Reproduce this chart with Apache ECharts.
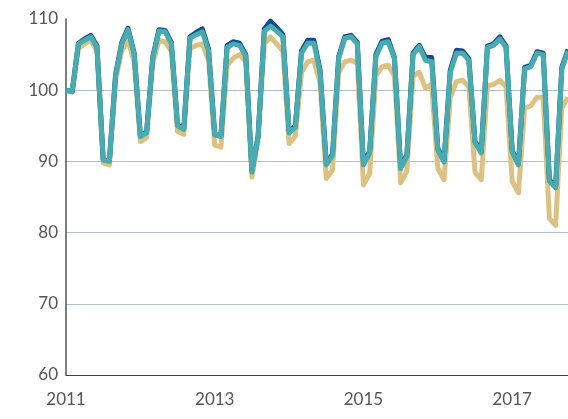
<!DOCTYPE html>
<html>
<head>
<meta charset="utf-8">
<script src="https://cdn.jsdelivr.net/npm/echarts@6/dist/echarts.min.js"></script>
<style>
  html, body { margin: 0; padding: 0; background: #fff; }
  #chart { width: 568px; height: 419px; }
</style>
</head>
<body>
<div id="chart"></div>
<script>
// months Jan 2011 .. Oct 2017
var months = [];
for (var y = 2011; y <= 2017; y++) {
    for (var m = 1; m <= 12; m++) {
        if (y === 2017 && m > 10) break;
        months.push(y + '-' + (m < 10 ? '0' + m : m));
    }
}

var yearLabels = ['2011', '2013', '2015', '2017'];

var navyData = [
    100, 99.8, 106.6, 107.2, 107.7, 106.2, 90.3, 90.1, 102.2, 106.7, 108.7, 105.2,
    93.6, 94.1, 104.7, 108.5, 108.4, 106.7, 95.1, 94.6, 107.5, 108.1, 108.6, 105.8,
    93.8, 93.6, 106.3, 106.8, 106.6, 105, 88.7, 93.6, 108.6, 109.7, 108.8, 107.8,
    94.2, 95, 105.5, 107, 107, 102.8, 89.7, 91, 104.7, 107.5, 107.7, 106.7,
    89.7, 91.4, 105, 106.9, 107.1, 104.6, 89.2, 90.9, 105.2, 106.3, 104.6, 104.6,
    91.8, 90.1, 102.8, 105.6, 105.5, 104.4, 92.8, 91.4, 106.2, 106.5, 107.5, 106.2,
    91.5, 89.7, 103.2, 103.5, 105.4, 105.2, 87.4, 86.5, 103.2, 105.7
];
var tealData = [
    100, 99.8, 106.5, 107, 107.5, 106, 90.2, 90, 102, 106.5, 108.5, 105,
    93.5, 94, 104.5, 108.3, 108.2, 106.5, 95, 94.5, 107.3, 107.8, 108.2, 105.5,
    93.7, 93.5, 106, 106.5, 106.3, 104.8, 88.5, 93.5, 108.3, 109, 108.3, 107.5,
    94, 94.8, 105.2, 106.6, 106.6, 102.5, 89.5, 90.8, 104.5, 107.3, 107.5, 106.5,
    89.5, 91.2, 104.7, 106.6, 106.8, 104.4, 89, 90.7, 105, 106.1, 104.2, 104,
    91.6, 89.9, 102.5, 105.2, 105.2, 104.2, 92.6, 91.2, 106, 106.3, 107.2, 106,
    91.3, 89.5, 103, 103.3, 105.2, 105, 87.2, 86.3, 103, 105.5
];
var tanData = [
    100, 99.8, 105.8, 106.5, 107, 105.5, 89.8, 89.5, 101.5, 105.5, 107, 104,
    92.8, 93.3, 103.8, 107, 106.8, 105.5, 94.2, 93.8, 105.8, 106.3, 106.5, 104.2,
    92.3, 92, 103.5, 104.5, 105, 104, 87.8, 93, 106.5, 107.5, 106.5, 105.5,
    92.5, 93.5, 102.5, 104, 104.2, 101, 87.6, 88.8, 102.5, 104, 104.2, 103.8,
    86.7, 88.3, 102, 103.3, 103.5, 102, 87, 88.6, 102, 102.5, 100.3, 100.8,
    89, 87.4, 99, 101.2, 101.4, 100.5, 88.5, 87.4, 100.6, 100.8, 101.4, 100.5,
    87.2, 85.6, 97.5, 97.8, 99, 99, 82, 81, 97.5, 99
];

var myChart = echarts.init(document.getElementById('chart'));

function lineSeries(name, data, color) {
    return {
        name: name,
        type: 'line',
        data: data,
        symbol: 'none',
        lineStyle: { color: color, width: 5, join: 'round', cap: 'butt' },
        itemStyle: { color: color }
    };
}

var option = {
    animation: false,
    textStyle: { fontFamily: 'Lato' },
    grid: { left: 66, right: 0, top: 19, bottom: 44 },
    xAxis: {
        type: 'category',
        data: months,
        boundaryGap: false,
        axisLine: { lineStyle: { color: '#444', width: 1 } },
        axisTick: { show: false },
        splitLine: { show: false },
        axisLabel: {
            color: '#555',
            fontSize: 17,
            margin: 16,
            interval: function(i, v) {
                return yearLabels.indexOf(v.slice(0, 4)) >= 0 && v.slice(5) === '01';
            },
            formatter: function(v) { return v.slice(0, 4); }
        }
    },
    yAxis: {
        type: 'value',
        min: 60,
        max: 110,
        interval: 10,
        axisLine: { show: true, lineStyle: { color: '#555', width: 1.5 } },
        axisTick: { show: false },
        axisLabel: { color: '#555', fontSize: 17, margin: 8 },
        splitLine: {
            show: true,
            showMinLine: false,
            showMaxLine: false,
            lineStyle: { color: '#b4c0c8', width: 1 }
        }
    },
    series: [
        lineSeries('tan', tanData, '#dcc183'),
        lineSeries('navy', navyData, '#0f4c92'),
        lineSeries('teal', tealData, '#48abaf')
    ]
};

myChart.setOption(option);
</script>
</body>
</html>
